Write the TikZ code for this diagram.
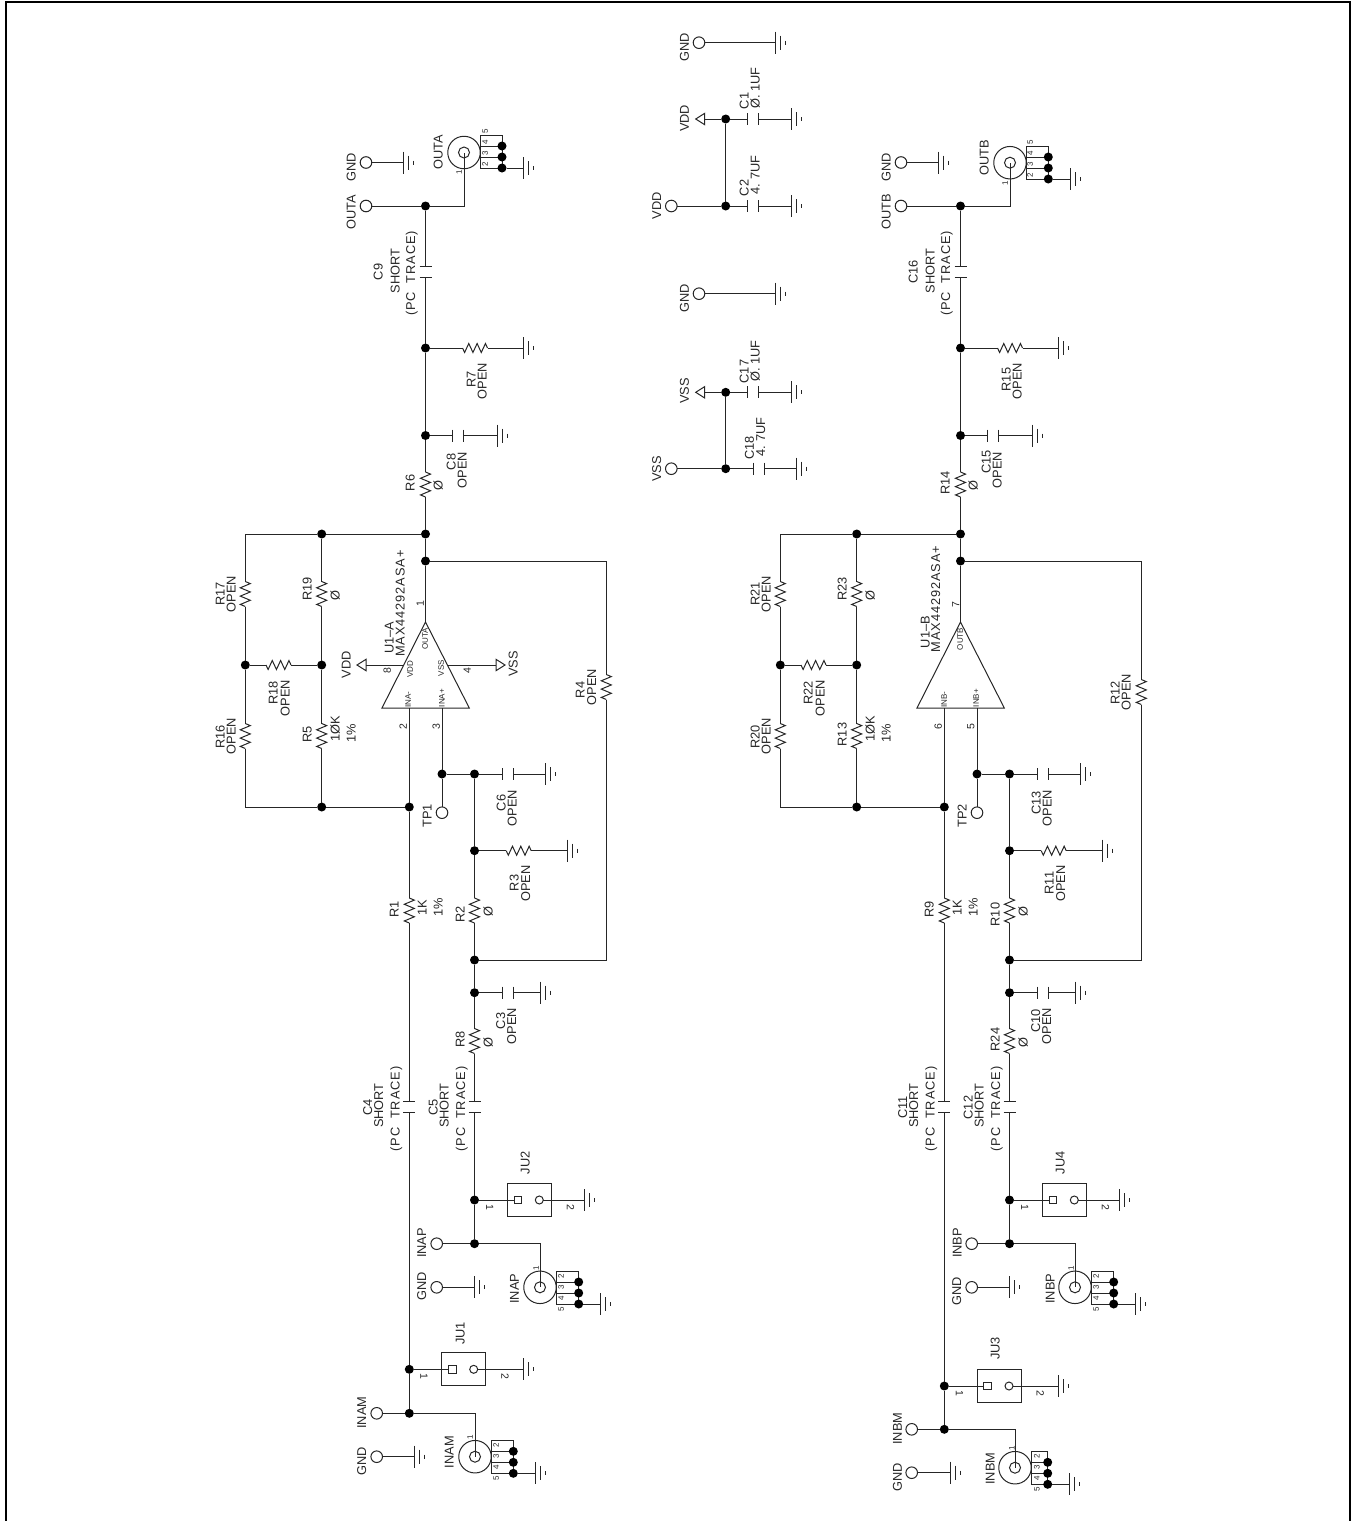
\documentclass[tikz,border=0pt]{standalone}
\usepackage{fontspec}
\setmainfont{Liberation Sans}
\newcount\lbc
\tikzset{
  w/.style={line width=1pt,draw=black!85},
  lab/.style={rotate=90,inner sep=0pt,outer sep=0pt,text height=9pt,text depth=0pt,text=black!85,font=\fontsize{12.8}{12.8}\selectfont},
  labm/.style={rotate=90,inner sep=0pt,outer sep=0pt,text height=7.5pt,text depth=0pt,text=black!85,font=\fontsize{10.5}{10.5}\selectfont},
  labs/.style={rotate=90,inner sep=0pt,outer sep=0pt,text height=5.8pt,text depth=0pt,text=black!85,font=\fontsize{8}{8}\selectfont},
  labd/.style={rotate=-90,inner sep=0pt,outer sep=0pt,text height=7.5pt,text depth=0pt,text=black!85,font=\fontsize{10.5}{10.5}\selectfont},
  jn/.style={circle,fill=black,inner sep=0pt,minimum size=9pt,outer sep=0pt},
  tpn/.style={circle,w,inner sep=0pt,minimum size=11.6pt,outer sep=0pt},
  inner/.style={circle,w,inner sep=0pt,minimum size=11pt,outer sep=0pt},
  outerc/.style={circle,w,inner sep=0pt,minimum size=32.5pt,outer sep=0pt},
  rvn/.style={rectangle,inner sep=0pt,outer sep=0pt,minimum width=10pt,minimum height=25pt},
  rhn/.style={rectangle,inner sep=0pt,outer sep=0pt,minimum width=25pt,minimum height=10pt},
  cvn/.style={rectangle,inner sep=0pt,outer sep=0pt,minimum width=12pt,minimum height=11pt},
  chn/.style={rectangle,inner sep=0pt,outer sep=0pt,minimum width=11pt,minimum height=12pt},
  jubox/.style={rectangle,w,inner sep=0pt,outer sep=0pt,minimum width=44pt,minimum height=33pt},
  jusq/.style={rectangle,w,inner sep=0pt,outer sep=0pt,minimum size=7.6pt},
  juci/.style={circle,w,inner sep=0pt,outer sep=0pt,minimum size=8pt},
}
\newcommand\lb[4][lab]{\global\advance\lbc by 1 \node[#1] (lb\the\lbc) at (#2,#3) {#4};}
\newcommand\ls[1]{{\addfontfeature{LetterSpace=7}#1}}
\newcommand\Jn[3]{\node[jn] (#1) at (#2,#3) {};}
\newcommand\Tp[3]{\node[tpn] (#1) at (#2,#3) {};}
\newcommand\gnd[3]{\coordinate (#1) at (#2,#3);
  \draw[w] (#1) ++(0,-11) -- ++(0,22) ++(5,-18) -- ++(0,14) ++(5,-9) -- ++(0,4);}
\newcommand\rv[3]{\node[rvn] (#1) at (#2,#3) {};
  \draw[w] (#1.north) -- ++(5,2.1) -- ++(-10,4.17) -- ++(10,4.17) -- ++(-10,4.17) -- ++(10,4.17) -- ++(-10,4.17) -- ++(5,2.05);}
\newcommand\rh[3]{\node[rhn] (#1) at (#2,#3) {};
  \draw[w] (#1.west) -- ++(2.1,4.5) -- ++(4.17,-9) -- ++(4.17,9) -- ++(4.17,-9) -- ++(4.17,9) -- ++(4.17,-9) -- ++(2.05,4.5);}
\newcommand\cv[3]{\node[cvn] (#1) at (#2,#3) {};
  \draw[w] (#1.north west) -- (#1.north east) (#1.south west) -- (#1.south east);}
\newcommand\ch[3]{\node[chn] (#1) at (#2,#3) {};
  \draw[w] (#1.north west) -- (#1.south west) (#1.north east) -- (#1.south east);}
% jumper: name, box left, y, ground x, junction
\newcommand\jumper[5]{
  \node[jubox] (#1) at (#2+22,#3) {};
  \node[jusq] (#1S) at (#2+10.7,#3) {};
  \node[juci] (#1C) at (#2+32,#3) {};
  \gnd{#1G}{#4}{#3}
  \draw[w] (#5) -- (#1S) (#1C) -- (#1G);
  \lb[labd]{#2-17.5}{#3+7}{1}
  \lb[labd]{#2+63.4}{#3+7}{2}
}
% bnc: name, cx, cy, box left, box right, box top, ground x
\newcommand\bnc[7]{
  \coordinate (#1) at (#2,#3);
  \node[outerc] (#1O) at (#1) {};
  \node[inner] (#1I) at (#1) {};
  \draw[w] (#4,#6) rectangle (#5,#6+33);
  \draw[w] (#4,#6+11) -- (#5,#6+11) (#4,#6+22) -- (#5,#6+22);
  \Jn{#1Da}{#5}{#6+11}
  \Jn{#1Db}{#5}{#6+22}
  \Jn{#1Dc}{#5}{#6+33}
  \gnd{#1G}{#7}{#6+33}
  \draw[w] (#1Dc) -- (#1G);
}
\newcommand\pinlabs[6]{
  \lb[labs]{#1}{#2}{#3}
  \lb[labs]{#1}{#2+11}{#4}
  \lb[labs]{#1}{#2+22}{#5}
  \lb[labs]{#1}{#2+33}{#6}
}
% common part of one channel; #1 = R4 centre y, #2 = JU1 junction y, #3 = input junction y
\newcommand\core[3]{
  \Jn{jOut}{425.5}{206}
  \Jn{jP}{425.5}{348}
  \Jn{jQ}{425.5}{435.5}
  \Jn{jT}{425.5}{534}
  \Jn{jU}{425.5}{561}
  \cv{cA}{425.5}{271.5}
  \rh{rB}{475}{348}
  \gnd{gB}{523}{348}
  \ch{cC}{458}{435.5}
  \gnd{gC}{497}{435.5}
  \rv{rD}{425.5}{484.5}
  \coordinate (oA) at (425.5,622);
  \coordinate (oL) at (382,708);
  \coordinate (oR) at (469.3,708);
  \coordinate (pM) at (409.3,708);
  \coordinate (pP) at (442,708);
  \draw[w] (oA) -- (oL) -- (oR) -- cycle;
  \draw[w] (jOut) -- (cA) -- (jP) -- (jQ) -- (rD) -- (jT) -- (jU) -- (oA);
  \draw[w] (jP) -- (rB) -- (gB);
  \draw[w] (jQ) -- (cC) -- (gC);
  % feedback network
  \Jn{jA}{321.7}{534}
  \Jn{jB}{245.3}{665}
  \Jn{jD}{321.7}{665}
  \Jn{jC}{321.7}{807}
  \Jn{jM}{409.3}{807}
  \coordinate (cTL) at (245.3,534);
  \coordinate (cBL) at (245.3,807);
  \rv{rE}{245.3}{594}
  \rv{rF}{321.7}{594}
  \rh{rG}{278.5}{665}
  \rv{rH}{245.3}{736}
  \rv{rI}{321.7}{736}
  \draw[w] (jT) -- (jA) -- (cTL) -- (rE) -- (jB) -- (rH) -- (cBL) -- (jC) -- (jM);
  \draw[w] (jA) -- (rF) -- (jD) -- (rI) -- (jC);
  \draw[w] (jB) -- (rG) -- (jD);
  % inverting path
  \Jn{jJ}{409.3}{#2}
  \Jn{jN}{409.3}{#3}
  \rv{rR}{409.3}{910.5}
  \cv{cS}{409.3}{1107}
  \draw[w] (pM) -- (jM) -- (rR) -- (cS) -- (jJ) -- (jN);
  % non inverting path
  \Jn{jV}{442}{774}
  \Tp{tT}{442}{812.7}
  \Jn{jW}{474.5}{774}
  \ch{cW}{507.5}{774}
  \gnd{gW}{545.7}{774}
  \Jn{jX}{474.5}{850.7}
  \rh{rX}{518.7}{850.7}
  \gnd{gX}{567.7}{850.7}
  \rv{rY}{474.5}{910.5}
  \Jn{jY}{474.5}{960}
  \Jn{jZ}{474.5}{992.7}
  \ch{cZ}{507.8}{992.7}
  \gnd{gZ}{540}{992.7}
  \rv{rK}{474.5}{1041}
  \cv{cK}{474.5}{1107}
  \Jn{jL}{474.5}{1200}
  \Jn{jK}{474.5}{1243.7}
  \draw[w] (pP) -- (jV) -- (tT);
  \draw[w] (jV) -- (jW) -- (cW) -- (gW);
  \draw[w] (jW) -- (jX) -- (rY) -- (jY) -- (jZ) -- (rK) -- (cK) -- (jL) -- (jK);
  \draw[w] (jX) -- (rX) -- (gX);
  \draw[w] (jZ) -- (cZ) -- (gZ);
  \coordinate (cR1) at (606.3,960);
  \coordinate (cR2) at (606.3,561);
  \rv{rQ}{606.3}{#1}
  \draw[w] (jY) -- (cR1) -- (rQ) -- (cR2) -- (jU);
  % output terminals
  \Tp{tOut}{366}{206}
  \Tp{tGnd}{366}{162.5}
  \gnd{gOut}{403}{162.5}
  \draw[w] (tOut) -- (jOut);
  \draw[w] (tGnd) -- (gOut);
  % JU and INxP common
  \jumper{ju2}{507.3}{1200}{584}{jL}
  \Tp{tP}{436.7}{1243.7}
  \Tp{tPg}{436.7}{1287.3}
  \gnd{gPg}{474.3}{1287.3}
  \draw[w] (tP) -- (jK);
  \draw[w] (tPg) -- (gPg);
  \bnc{bP}{540}{1287.3}{556.3}{578.7}{1271}{600.7}
  \draw[w] (jK) -| (bP);
  \pinlabs{561}{1276}{2}{3}{4}{5}
  \lb[labs]{536}{1268}{1}
}
\newcommand\labelsA[9]{
  \lb{378}{272}{#1}
  \lb{395}{271}{SHORT}
  \lb{410.5}{273.5}{\ls{(PC~~TRACE)}}
  \lb{471}{379.5}{#2}
  \lb{482}{381}{OPEN}
  \lb{451}{462}{#3}
  \lb{462}{470}{OPEN}
  \lb{410}{483}{#4}
  \lb{438}{486}{Ø}
  \lb{220}{594}{#5}
  \lb{231}{594}{OPEN}
  \lb{307}{589}{#6}
  \lb{335}{596}{Ø}
  \lb{273}{693}{#7}
  \lb{285}{698}{OPEN}
  \lb{220}{737}{#8}
  \lb{231}{736}{OPEN}
  \lb{307}{734.5}{#9}
  \lb{335}{729}{1ØK}
  \lb{351}{733}{1\%}
}
\newcommand\labelsB[8]{
  \lb{501}{803}{#1}
  \lb{512}{808}{OPEN}
  \lb{514}{883}{#2}
  \lb{525.7}{883.5}{OPEN}
  \lb{460}{914.5}{#3}
  \lb{488}{912}{Ø}
  \lb{500.7}{1021}{#4}
  \lb{511.7}{1026}{OPEN}
  \lb{460}{1039.5}{#5}
  \lb{488}{1043}{Ø}
  \lb{433}{1107.5}{#6}
  \lb{444}{1105.5}{SHORT}
  \lb{460.7}{1109}{\ls{(PC~~TRACE)}}
  \lb{367.5}{1107.5}{#7}
  \lb{378.5}{1105.5}{SHORT}
  \lb{395}{1109}{\ls{(PC~~TRACE)}}
  \lb{394}{909.5}{#8}
  \lb{422}{907.5}{1K}
  \lb{438}{907.5}{1\%}
  \lb{351}{167.5}{GND}
}
\begin{document}
\begin{tikzpicture}[x=1pt,y=-1pt]
\useasboundingbox (0,0) rectangle (1353,1521);
\draw[line width=2pt,black] (5.5,1521) -- (5.5,2) -- (1350,2) -- (1350,1521);

% ---------- channel A ----------
\begin{scope}[name prefix=a-]
\core{687}{1369.3}{1413.3}
\labelsA{C9}{R7}{C8}{R6}{R17}{R19}{R18}{R16}{R5}
\labelsB{C6}{R3}{R2}{C3}{R8}{C5}{C4}{R1}
\lb{351}{212}{OUTA}
\bnc{bO}{464}{152.5}{480}{502}{135}{523.5}
\draw[w] (jOut) -| (bO);
\lb{438}{152}{OUTA}
\lb[labs]{459}{172}{1}
\pinlabs{485}{131.5}{5}{4}{3}{2}
\lb{580}{690}{R4}
\lb{591.7}{687}{OPEN}
\lb{389}{637.5}{U1–A}
\lb{400}{603.5}{\ls{MAX44292ASA+}}
\lb[labm]{420}{604}{1}
\lb[labm]{403}{727}{2}
\lb[labm]{436}{727}{3}
\lb[labm]{387}{671}{8}
\lb[labm]{467}{671}{4}
\lb[labs]{425}{639}{OUTA}
\lb[labs]{410}{669}{VDD}
\lb[labs]{441}{668}{VSS}
\lb[labs]{408}{699.5}{INA-}
\lb[labs]{441.7}{698}{INA+}
\lb{427}{816}{TP1}
\coordinate (pVd) at (403.5,665);
\coordinate (aVd) at (366,665);
\coordinate (pVs) at (447.5,665);
\coordinate (aVs) at (496,665);
\draw[w] (pVd) -- (aVd);
\draw[w] (pVs) -- (aVs);
\draw[w] (aVd) ++(0,-5.7) -- ++(-9,5.7) -- ++(9,5.7) -- cycle;
\draw[w] (aVs) ++(0,-5.7) -- ++(9,5.7) -- ++(-9,5.7) -- cycle;
\lb{346}{665}{VDD}
\lb{513}{664}{VSS}
\lb{525}{1163}{JU2}
\lb{421.7}{1243}{INAP}
\lb{421.7}{1286}{GND}
\lb{514.3}{1288.7}{INAP}
\jumper{ju1}{441.7}{1369.3}{523.3}{jJ}
\lb{460}{1333.5}{JU1}
\Tp{tN}{376.7}{1413.3}
\Tp{tNg}{376.7}{1456.7}
\gnd{gNg}{414.3}{1456.7}
\draw[w] (tN) -- (jN);
\draw[w] (tNg) -- (gNg);
\bnc{bN}{475}{1456.7}{491}{513.3}{1440.3}{535}
\draw[w] (jN) -| (bN);
\pinlabs{496}{1445.7}{2}{3}{4}{5}
\lb[labs]{470}{1437.7}{1}
\lb{361.7}{1412.7}{INAM}
\lb{361.7}{1461}{GND}
\lb{449}{1452}{INAM}
\end{scope}

% ---------- channel B ----------
\begin{scope}[xshift=535pt,name prefix=b-]
\core{692}{1386}{1429.3}
\labelsA{C16}{R15}{C15}{R14}{R21}{R23}{R22}{R20}{R13}
\labelsB{C13}{R11}{R10}{C10}{R24}{C12}{C11}{R9}
\lb{351}{212}{OUTB}
\bnc{bO}{475}{162.7}{491}{513.3}{146}{535}
\draw[w] (jOut) -| (bO);
\lb{449}{158}{OUTB}
\lb[labs]{470}{183}{1}
\pinlabs{495}{142.7}{5}{4}{3}{2}
\lb{580}{693}{R12}
\lb{591}{692}{OPEN}
\lb{390}{632}{U1–B}
\lb{400.7}{599}{\ls{MAX44292ASA+}}
\lb[labm]{420.7}{605}{7}
\lb[labm]{403}{727}{6}
\lb[labm]{435.7}{727}{5}
\lb[labs]{425}{639}{OUTB}
\lb[labs]{409}{699.5}{INB-}
\lb[labs]{441}{698}{INB+}
\lb{427}{816}{TP2}
\lb{525}{1163}{JU4}
\lb{422}{1243}{INBP}
\lb{421.7}{1291.5}{GND}
\lb{515}{1288.7}{INBP}
\jumper{ju1}{442}{1386}{523.3}{jJ}
\lb{460}{1348.5}{JU3}
\Tp{tN}{376.7}{1429.3}
\Tp{tNg}{376.7}{1472.7}
\gnd{gNg}{415}{1472.7}
\draw[w] (tN) -- (jN);
\draw[w] (tNg) -- (gNg);
\bnc{bN}{480}{1467.7}{496.7}{512.7}{1451.3}{534.3}
\draw[w] (jN) -| (bN);
\pinlabs{501.7}{1456.7}{2}{3}{4}{5}
\lb[labs]{476.7}{1448.3}{1}
\lb{362.3}{1428.7}{INBM}
\lb{362.3}{1477.5}{GND}
\lb{455}{1468.7}{INBM}
\end{scope}

% ---------- supplies ----------
\Tp{sG1}{699}{42.7}
\gnd{sG1g}{775.7}{42.7}
\draw[w] (sG1) -- (sG1g);
\lb{684.3}{47}{GND}
\coordinate (sVa) at (704.7,119);
\draw[w] (sVa) ++(0,-5.7) -- ++(-9,5.7) -- ++(9,5.7) -- cycle;
\Jn{sJ1}{725.7}{119}
\ch{sC1}{753.3}{119}
\gnd{sC1g}{791.7}{119}
\draw[w] (sVa) -- (sJ1) -- (sC1) -- (sC1g);
\lb{684.3}{118.3}{VDD}
\lb{744}{101}{C1}
\lb{755}{88}{Ø. 1UF}
\Tp{sT1}{671.3}{206}
\Jn{sJ2}{725.7}{206}
\ch{sC2}{753.3}{206}
\gnd{sC2g}{791.7}{206}
\draw[w] (sT1) -- (sJ2) -- (sC2) -- (sC2g);
\draw[w] (sJ1) -- (sJ2);
\lb{656.7}{205.5}{VDD}
\lb{744}{188}{C2}
\lb{755}{175}{4. 7UF}
\Tp{sG2}{699}{293.7}
\gnd{sG2g}{775.7}{293.7}
\draw[w] (sG2) -- (sG2g);
\lb{684.3}{298}{GND}
\coordinate (sVb) at (704.7,392.3);
\draw[w] (sVb) ++(0,-5.7) -- ++(-9,5.7) -- ++(9,5.7) -- cycle;
\Jn{sJ3}{725.7}{392.3}
\ch{sC3}{753.3}{392.3}
\gnd{sC3g}{791.7}{392.3}
\draw[w] (sVb) -- (sJ3) -- (sC3) -- (sC3g);
\lb{684.3}{391}{VSS}
\lb{744}{371.5}{C17}
\lb{755}{361}{Ø. 1UF}
\Tp{sT2}{671.3}{468.7}
\Jn{sJ4}{725.7}{468.7}
\ch{sC4}{759}{468.7}
\gnd{sC4g}{796.7}{468.7}
\draw[w] (sT2) -- (sJ4) -- (sC4) -- (sC4g);
\draw[w] (sJ3) -- (sJ4);
\lb{656.7}{469}{VSS}
\lb{749.3}{448}{C18}
\lb{760.7}{437}{4. 7UF}
\end{tikzpicture}
\end{document}
